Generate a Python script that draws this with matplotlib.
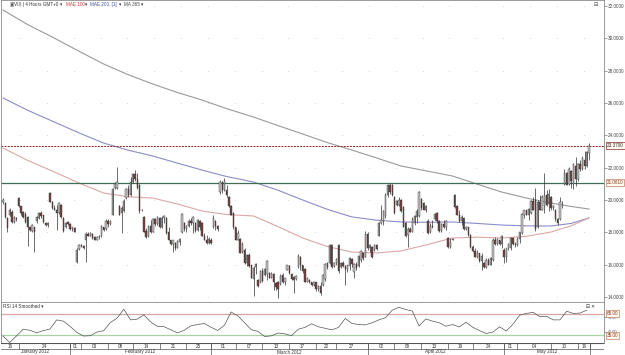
import matplotlib.pyplot as plt
import numpy as np

# VIX 4 hour candles, mid January to mid May 2012
opens = [19.85, 19.81, 18.9, 19.07, 19.26, 18.64, 18.9, 20.1, 19.6, 19.25,
         19.15, 18.95, 18.3, 18.1, 18.3, 18.7, 18.9, 19.2, 19.05, 18.6,
         18.45, 20.45, 19.9, 19.5, 19.4, 19.2, 19.7, 18.9, 18.3, 18.65,
         18.5, 18.2, 18.25, 16.15, 16.95, 17.2, 17.15, 17.5, 17.9, 17.8,
         17.9, 17.7, 17.55, 17.7, 17.75, 18.3, 18.2, 18.7, 18.5, 19.1,
         20.75, 20.75, 19.65, 19.2, 19.3, 20.1, 20.7, 20.3, 21.1, 21.6,
         21.3, 20.9, 19.35, 18.95, 18.1, 17.75, 18.4, 18.05, 18.8, 18.5,
         18.9, 18.3, 18.9, 18.9, 18.0, 17.5, 17.25, 17.35, 17.05, 17.4,
         18.0, 18.6, 18.2, 18.4, 18.7, 18.6, 18.6, 18.15, 18.7, 18.6,
         17.8, 17.55, 17.35, 17.55, 18.3, 18.7, 18.4, 20.5, 21.1, 20.6,
         20.6, 20.2, 19.6, 19.2, 18.3, 17.55, 17.6, 16.8, 16.9, 16.1,
         16.6, 15.95, 15.1, 15.85, 15.05, 14.9, 15.6, 15.35, 15.4, 15.5,
         15.2, 15.45, 14.85, 14.9, 14.8, 15.35, 14.9, 15.7, 15.9, 15.45,
         15.25, 15.1, 15.85, 16.5, 15.95, 15.75, 14.95, 15.05, 14.9, 14.75,
         14.9, 14.5, 14.7, 14.75, 15.1, 16.1, 16.1, 17.2, 15.9, 16.1,
         17.2, 15.85, 16.1, 15.9, 15.7, 15.9, 16.35, 15.55, 16.05, 15.9,
         16.3, 16.7, 16.5, 17.9, 17.0, 17.1, 16.9, 17.2, 17.8, 18.6,
         18.7, 19.0, 20.3, 20.9, 20.9, 20.2, 19.7, 19.7, 20.0, 19.55,
         18.6, 17.85, 18.2, 18.05, 18.6, 18.95, 19.0, 20.05, 19.8, 19.35,
         18.7, 18.0, 18.4, 18.8, 19.2, 18.7, 18.1, 18.5, 18.3, 17.65,
         17.1, 17.55, 20.3, 19.6, 19.1, 18.7, 18.9, 18.2, 18.3, 17.85,
         17.1, 16.85, 16.5, 16.7, 16.2, 16.1, 15.85, 16.3, 16.0, 16.3,
         17.55, 17.3, 17.5, 17.3, 16.9, 16.5, 17.0, 17.0, 17.65, 17.3,
         17.2, 17.6, 17.95, 19.1, 19.35, 19.1, 19.2, 19.95, 20.0, 18.3,
         19.9, 19.4, 19.6, 20.3, 19.75, 20.2, 19.5, 19.4, 18.8, 18.8,
         19.85, 21.0, 21.7, 21.0, 21.8, 21.0, 22.1, 21.3, 22.2, 21.9,
         22.5, 22.1, 22.9]
highs = [20.1, 19.9, 18.95, 19.5, 19.35, 19.0, 18.95, 20.2, 19.65, 19.3,
         19.25, 19.0, 18.35, 18.5, 18.35, 19.0, 19.25, 19.3, 19.1, 18.65,
         18.65, 20.5, 19.95, 19.7, 19.7, 19.85, 19.75, 18.95, 18.65, 18.7,
         18.6, 18.35, 18.3, 17.0, 17.25, 17.3, 17.2, 18.05, 18.0, 18.0,
         17.95, 17.8, 17.75, 17.85, 18.45, 18.35, 18.8, 18.8, 18.75, 20.75,
         21.1, 22.05, 19.7, 19.65, 20.05, 20.75, 20.9, 21.45, 21.7, 21.85,
         21.7, 21.0, 19.45, 19.0, 18.25, 18.45, 18.75, 18.9, 18.9, 19.0,
         18.95, 19.0, 19.1, 18.95, 18.3, 17.55, 17.55, 17.4, 17.55, 17.65,
         19.2, 18.65, 18.45, 18.8, 18.9, 19.0, 18.65, 18.8, 18.75, 18.65,
         17.95, 17.85, 17.7, 17.65, 19.05, 18.75, 18.45, 21.25, 21.2, 21.35,
         20.95, 20.25, 19.7, 19.25, 18.35, 18.15, 17.65, 17.4, 17.0, 16.65,
         16.7, 16.0, 15.9, 16.1, 15.1, 15.7, 15.8, 15.8, 16.3, 15.55,
         15.55, 15.5, 14.9, 15.0, 15.4, 15.5, 15.2, 16.0, 15.95, 15.5,
         15.3, 15.35, 16.65, 16.55, 16.0, 15.8, 15.25, 15.1, 14.95, 14.95,
         14.95, 14.75, 14.95, 15.4, 16.1, 16.15, 17.25, 17.3, 16.15, 16.4,
         17.25, 16.15, 16.2, 16.0, 16.0, 16.45, 16.4, 16.1, 16.15, 16.6,
         16.9, 16.75, 18.1, 18.0, 17.25, 17.15, 17.25, 17.3, 18.65, 19.7,
         19.4, 20.45, 21.0, 21.05, 21.0, 20.25, 20.0, 20.2, 20.05, 19.6,
         18.65, 18.3, 18.3, 18.95, 19.1, 19.45, 20.55, 20.15, 19.85, 19.7,
         18.8, 18.6, 18.75, 19.2, 19.25, 18.75, 18.6, 18.75, 18.75, 17.7,
         17.65, 17.65, 20.35, 19.7, 19.4, 19.1, 18.95, 18.4, 18.35, 17.9,
         17.2, 17.05, 16.9, 16.75, 16.7, 16.15, 16.4, 16.4, 16.5, 17.65,
         17.7, 17.65, 17.55, 17.85, 17.0, 17.05, 17.35, 17.7, 17.7, 17.4,
         17.7, 18.05, 19.2, 19.4, 19.4, 19.5, 20.0, 20.2, 20.75, 20.0,
         20.3, 20.3, 21.7, 20.6, 20.7, 20.25, 19.7, 19.45, 18.9, 20.2,
         19.95, 21.9, 21.75, 22.05, 21.85, 22.3, 22.65, 22.3, 22.45, 22.75,
         23.0, 23.05, 23.55]
lows = [19.75, 18.9, 18.02, 19.0, 18.55, 18.6, 18.7, 19.55, 19.1, 18.9,
        18.6, 17.15, 18.1, 18.0, 16.8, 18.6, 18.85, 18.9, 18.6, 18.4,
        18.35, 19.85, 19.45, 19.35, 18.15, 19.15, 18.9, 18.0, 18.25, 18.45,
        18.15, 18.1, 18.0, 16.1, 16.9, 17.1, 16.95, 16.15, 17.75, 17.75,
        17.6, 17.5, 17.5, 17.6, 17.7, 18.1, 18.15, 18.35, 18.45, 19.05,
        20.7, 20.7, 19.05, 17.95, 19.25, 20.05, 20.2, 20.25, 21.05, 21.2,
        20.7, 19.2, 19.3, 18.0, 17.65, 17.7, 17.95, 18.0, 18.4, 18.45,
        18.25, 18.25, 18.6, 17.9, 17.5, 17.2, 16.8, 16.9, 17.0, 17.2,
        17.95, 18.1, 18.0, 18.3, 18.45, 17.95, 18.0, 18.1, 18.15, 17.75,
        17.5, 17.3, 17.3, 17.3, 18.25, 18.15, 18.1, 20.4, 20.45, 20.55,
        20.2, 19.55, 19.05, 18.2, 17.5, 17.5, 16.7, 16.75, 16.05, 15.9,
        15.85, 15.15, 14.05, 15.45, 14.6, 14.85, 14.95, 15.3, 15.05, 15.15,
        15.15, 14.45, 14.45, 13.95, 14.75, 14.85, 14.75, 15.65, 15.45, 15.05,
        14.25, 15.05, 15.8, 15.7, 15.5, 14.9, 14.9, 14.85, 14.7, 14.7,
        14.4, 14.4, 14.1, 14.7, 15.0, 15.75, 16.05, 15.8, 15.85, 15.95,
        15.5, 15.8, 15.85, 14.75, 15.55, 15.65, 15.85, 15.2, 15.65, 15.85,
        16.15, 16.3, 16.45, 16.9, 16.8, 16.4, 16.85, 16.9, 17.75, 18.5,
        18.45, 18.9, 20.2, 20.4, 20.25, 19.15, 19.65, 19.6, 19.25, 18.3,
        17.7, 17.1, 18.0, 18.0, 18.45, 18.6, 18.95, 19.4, 19.35, 19.25,
        17.9, 17.95, 18.25, 18.75, 18.6, 18.0, 18.05, 18.25, 18.15, 17.0,
        17.05, 17.5, 19.5, 19.05, 18.65, 18.45, 18.15, 18.15, 17.8, 17.05,
        16.8, 16.45, 16.4, 16.15, 15.7, 15.8, 15.8, 15.95, 15.95, 16.25,
        17.2, 17.2, 17.2, 17.05, 16.1, 16.15, 16.9, 16.9, 17.2, 17.1,
        17.15, 17.35, 17.9, 18.9, 19.05, 18.75, 19.15, 19.35, 18.1, 18.25,
        19.35, 19.35, 19.2, 19.65, 19.3, 19.4, 19.35, 18.7, 18.45, 18.75,
        19.5, 20.9, 20.9, 20.95, 20.75, 20.7, 20.85, 21.15, 21.8, 21.85,
        21.9, 22.05, 22.5]
closes = [20.0, 18.95, 18.27, 19.38, 18.64, 18.95, 18.8, 19.6, 19.2, 18.95,
          18.65, 18.3, 18.15, 18.45, 18.05, 18.95, 19.2, 19.0, 18.65, 18.45,
          18.6, 19.9, 19.5, 19.4, 19.2, 19.8, 18.95, 18.1, 18.6, 18.5,
          18.2, 18.3, 18.05, 16.9, 17.2, 17.15, 17.0, 17.9, 17.8, 17.95,
          17.65, 17.55, 17.7, 17.75, 18.4, 18.15, 18.7, 18.5, 18.7, 20.7,
          21.0, 21.1, 19.1, 19.5, 19.95, 20.7, 20.3, 21.1, 21.6, 21.3,
          20.75, 19.3, 19.4, 18.05, 17.7, 18.4, 18.0, 18.8, 18.5, 18.95,
          18.3, 18.9, 19.0, 17.95, 17.55, 17.25, 17.5, 17.0, 17.45, 17.6,
          19.15, 18.2, 18.4, 18.7, 18.55, 18.95, 18.1, 18.75, 18.3, 17.8,
          17.55, 17.35, 17.6, 17.35, 18.9, 18.4, 18.2, 21.1, 20.6, 21.2,
          20.3, 19.6, 19.1, 18.3, 17.55, 17.95, 16.75, 17.3, 16.1, 16.6,
          15.9, 15.2, 15.8, 16.05, 14.65, 15.6, 15.0, 15.75, 16.2, 15.2,
          15.5, 14.9, 14.6, 14.5, 15.3, 14.9, 15.15, 15.95, 15.5, 15.1,
          15.05, 15.3, 16.55, 16.0, 15.6, 14.95, 15.2, 14.9, 14.75, 14.9,
          14.5, 14.7, 14.25, 15.35, 16.05, 15.85, 17.2, 15.85, 16.1, 16.35,
          15.6, 16.1, 15.9, 15.75, 15.95, 16.4, 16.05, 16.05, 15.8, 16.55,
          16.85, 16.4, 17.9, 17.0, 17.2, 16.5, 17.2, 16.95, 18.6, 18.75,
          19.3, 20.3, 20.9, 20.5, 20.3, 19.2, 19.95, 20.0, 19.3, 18.35,
          17.8, 18.2, 18.05, 18.85, 19.0, 19.3, 20.5, 19.5, 19.4, 19.65,
          17.95, 18.4, 18.3, 19.15, 18.7, 18.1, 18.5, 18.3, 18.7, 17.1,
          17.4, 17.6, 19.55, 19.1, 18.7, 18.95, 18.2, 18.35, 17.85, 17.1,
          16.85, 16.5, 16.75, 16.2, 16.55, 15.85, 16.3, 16.0, 16.4, 17.55,
          17.3, 17.6, 17.3, 17.8, 16.5, 17.0, 17.3, 17.65, 17.3, 17.2,
          17.6, 18.0, 19.15, 19.35, 19.1, 19.45, 19.95, 19.4, 18.2, 19.9,
          19.4, 20.2, 20.3, 19.7, 20.35, 19.5, 19.65, 18.8, 18.55, 19.9,
          19.9, 21.65, 20.95, 21.9, 21.2, 22.2, 21.3, 22.2, 21.9, 22.6,
          22.1, 22.95, 23.37]

# moving averages read at a few bars
ma_bars = [0, 11, 22, 34, 45, 56, 67, 78, 89, 100, 112, 123, 134, 145, 156,
           167, 178, 190, 201, 212, 223, 234, 245, 254, 262]
ma365 = [31.75, 30.85, 30.08, 29.2, 28.41, 27.75, 27.17, 26.65, 26.18, 25.65,
         25.13, 24.6, 24.08, 23.55, 23.09, 22.6, 22.10, 21.78, 21.48, 20.98,
         20.49, 20.12, 19.81, 19.6, 19.44]
mae200 = [26.31, 25.55, 24.88, 24.15, 23.52, 23.08, 22.72, 22.28, 21.85, 21.45,
          21.11, 20.6, 20.0, 19.42, 18.95, 18.75, 18.64, 18.62, 18.64, 18.55,
          18.45, 18.4, 18.39, 18.55, 18.89]
mae100 = [23.21, 22.45, 21.79, 21.05, 20.43, 20.2, 20.12, 19.75, 19.32, 19.1,
          19.01, 18.35, 17.65, 17.12, 16.78, 16.72, 16.85, 17.25, 17.65, 17.7,
          17.65, 17.75, 18.02, 18.4, 18.89]

support = 21.061
last_close = 23.37

# RSI 14 smoothed, one reading every 3 bars
rsi = [34, 25, 34, 43.5, 42, 38.5, 41.5, 43.8, 56.5, 54.7,
       47.5, 39, 34, 34.5, 39.5, 41.5, 52.8, 59, 71.4, 56.5,
       57.5, 63.5, 53.6, 47.6, 47, 42.8, 38.3, 42, 48.2, 50,
       51.5, 46.2, 41.8, 49, 67.5, 62, 52.5, 42.8, 40.5, 33.3,
       34.3, 38.2, 37, 34.5, 43.5, 46, 51, 46.8, 44.8, 42.6,
       46, 58.5, 51.5, 50, 49.5, 52.5, 56.4, 59.5, 70, 74,
       71, 68.8, 48, 57.8, 54.8, 52.5, 47.7, 50, 46.7, 53.2,
       46.3, 41.6, 37.5, 39.5, 46.8, 41, 50.5, 63, 65.5, 67,
       61, 61.5, 56.5, 56.5, 68.5, 65.5, 66, 70]
rsi_step = 3

# date axis: bar where each day cell starts
day_starts = [-1, 7, 30, 35, 47, 58, 70, 82, 93, 104, 116, 128, 140, 149,
              163, 175, 187, 199, 210, 224, 230, 245, 257, 262.5]
day_labels = ["16", "24", "01", "03", "08", "14", "21", "25", "01", "07", "13", "17",
              "22", "27", "02", "09", "13", "19", "24", "01", "04", "10", "16"]
month_starts = [-1, 30, 93, 163, 224, 262.5]
month_labels = ["January 2012", "February 2012", "March 2012", "April 2012", "May 2012"]

price_ticks = list(range(14, 33, 2))
grid_bars = list(np.arange(7.6, 262, 12))

FONT = ['Liberation Sans', 'DejaVu Sans']
FS = 3.3
W, H = 625, 355


def rect(l, t, r, b):
    return [l / W, 1 - b / H, (r - l) / W, (b - t) / H]


def style_frame(a):
    for s in a.spines.values():
        s.set_color('#8a8a8a')
        s.set_linewidth(0.6)


fig = plt.figure(figsize=(W / 100, H / 100), dpi=100)
ax = fig.add_axes(rect(1, 0, 604, 302))
ax_rsi = fig.add_axes(rect(1, 302, 604, 343))
ax_dt = fig.add_axes(rect(1, 343, 604, 355))
XL = (-0.9, 268.7)

# candles
o, hi, lo, c = map(np.array, (opens, highs, lows, closes))
x = np.arange(len(o))
up = c >= o
bottom = np.minimum(o, c)
height = np.maximum(np.abs(c - o), 0.04)
ax.vlines(x, lo, hi, color='#303030', lw=0.5, zorder=3)
ax.bar(x[up], height[up], bottom=bottom[up], width=0.6, color='#c8c8c8',
       edgecolor='#303030', lw=0.3, zorder=4)
ax.bar(x[~up], height[~up], bottom=bottom[~up], width=0.6, color='#7a4242',
       edgecolor='#303030', lw=0.3, zorder=4)

ax.plot(ma_bars, ma365, color='#9a9a9a', lw=0.8, zorder=2)
ax.plot(ma_bars, mae200, color='#8c8cc8', lw=0.8, zorder=2)
ax.plot(ma_bars, mae100, color='#dba7a7', lw=0.8, zorder=2)

ax.axhline(support, color='#3e6e55', lw=0.9, zorder=2)
ax.axhline(last_close, color='#8b2525', lw=0.7, ls=(0, (2, 1.2)), zorder=2)

gx, gy = np.meshgrid(grid_bars, price_ticks)
ax.scatter(gx.ravel(), gy.ravel(), s=0.2, color='#b8b8b8', lw=0, zorder=1)

ax.set_xlim(*XL)
ax.set_ylim(13.69, 32.37)
ax.yaxis.tick_right()
ax.set_yticks(price_ticks)
ax.set_yticklabels([f"{v:.4f}" for v in price_ticks], family=FONT, fontsize=FS, color='#444444')
ax.tick_params(axis='y', length=2, width=0.5, color='#777777', pad=1.0)
ax.set_xticks([])
style_frame(ax)

box = dict(boxstyle='square,pad=0.2', fc='#fffaf0', lw=0.5)
ax.text(1.005, last_close, f"{last_close:.4f}", transform=ax.get_yaxis_transform(),
        va='center', ha='left', fontsize=FS, family=FONT, color='#333333',
        bbox=dict(box, ec='#8b2525'), clip_on=False, zorder=6)
ax.text(1.005, support, f"{support:.4f}", transform=ax.get_yaxis_transform(),
        va='center', ha='left', fontsize=FS, family=FONT, color='#8b3a1a',
        bbox=dict(box, ec='#c08060'), clip_on=False, zorder=6)

# legend line at top left
legend = [(10, '▣', '#555555'), (14, 'VIX | 4 Hours GMT+0', '#333333'), (60, '▾', '#333333'),
          (66, 'MAE 100', '#c03a3a'), (85, '▾', '#333333'), (90, 'MAE 200, [1]', '#3f4fa0'),
          (119, '▾', '#333333'), (124, 'MA 365', '#444444'), (141, '▾', '#333333')]
for px, txt, col in legend:
    fig.text(px / W, 1 - 4.5 / H, txt, fontsize=FS, family=FONT, color=col, va='center')
fig.text(594 / W, 1 - 4 / H, '⊟', fontsize=FS + 0.5, family=FONT, color='#444444', va='center')

# RSI panel
ax_rsi.plot(np.arange(len(rsi)) * rsi_step, rsi, color='#555555', lw=0.5, zorder=3)
ax_rsi.axhline(65, color='#d8a5a5', lw=0.9, zorder=2)
ax_rsi.axhline(35, color='#a6d3a6', lw=0.9, zorder=2)
ax_rsi.set_xlim(*XL)
ax_rsi.set_ylim(24.3, 81.4)
ax_rsi.yaxis.tick_right()
ax_rsi.set_yticks([40, 60])
ax_rsi.set_yticklabels(['40.00', '60.00'], family=FONT, fontsize=FS - 0.6, color='#555555')
ax_rsi.tick_params(axis='y', length=2, width=0.5, color='#777777', pad=1.0)
ax_rsi.set_xticks([])
style_frame(ax_rsi)
for lvl in (65, 35):
    ax_rsi.text(1.005, lvl, f"{lvl:.2f}", transform=ax_rsi.get_yaxis_transform(),
                va='center', ha='left', fontsize=FS, family=FONT, color='#8b3a1a',
                bbox=dict(box, ec='#c08060'), clip_on=False, zorder=6)
ax_rsi.text(0.004, 0.88, 'RSI 14 Smoothed ▾', transform=ax_rsi.transAxes, fontsize=FS,
            family=FONT, color='#333333', va='center')
ax_rsi.text(0.985, 0.88, '⊟ ✕', transform=ax_rsi.transAxes, fontsize=FS, family=FONT,
            color='#333333', va='center', ha='right')

# date axis
ax_dt.set_xlim(*XL)
ax_dt.set_ylim(0, 2)
ax_dt.axis('off')
ax_dt.axhline(1, color='#555555', lw=0.5)
ax_dt.axhline(2, color='#555555', lw=0.8)
for i, lab in enumerate(day_labels):
    a, b = day_starts[i], day_starts[i + 1]
    ax_dt.vlines(b, 1, 2, color='#555555', lw=0.5)
    ax_dt.text((max(a, XL[0]) + b) / 2, 1.5, lab, ha='center', va='center',
               fontsize=FS, family=FONT, color='#333333')
for i, lab in enumerate(month_labels):
    a, b = month_starts[i], month_starts[i + 1]
    ax_dt.vlines(b, 0, 2, color='#555555', lw=0.5)
    ax_dt.text((max(a, XL[0]) + b) / 2, 0.5, lab, ha='center', va='center',
               fontsize=FS, family=FONT, color='#333333')

fig.savefig('out.png', dpi=100, facecolor='white')
